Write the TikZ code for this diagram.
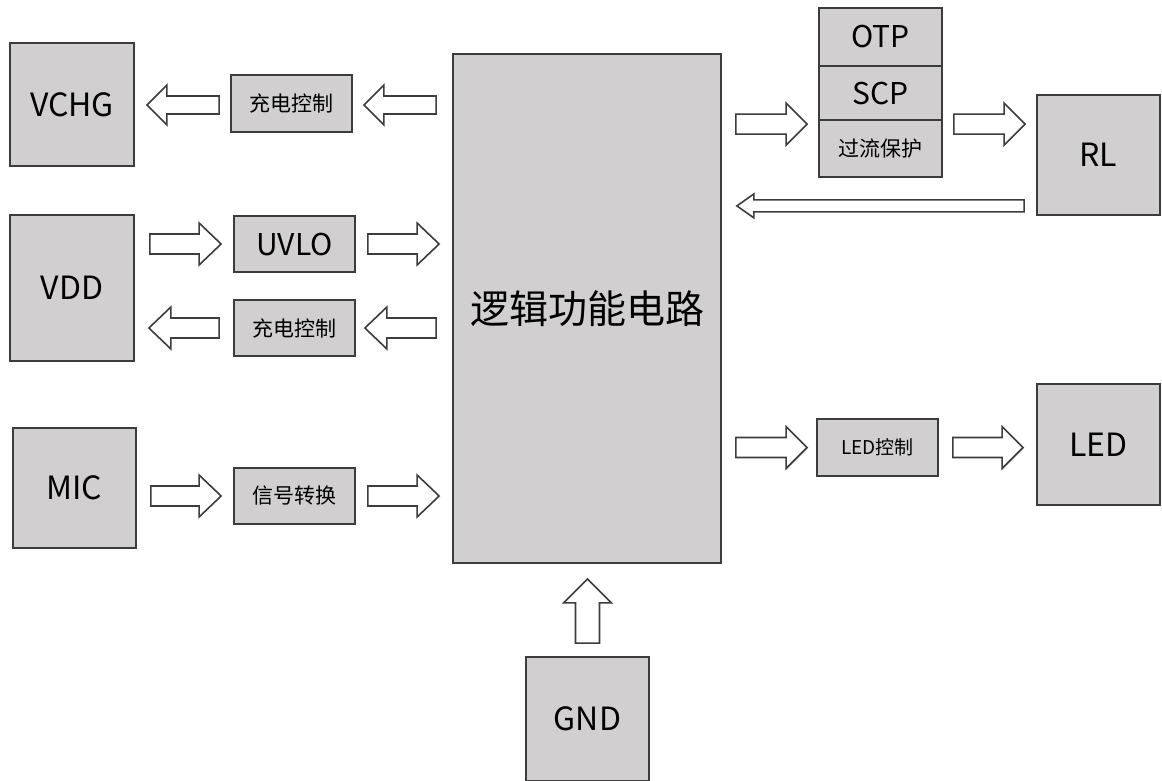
\documentclass[tikz,border=0pt]{standalone}
\usepackage{fontspec}
\setmainfont{Noto Sans CJK SC}
\usetikzlibrary{calc}
\definecolor{boxfill}{RGB}{209,207,207}
\definecolor{edgecol}{RGB}{60,60,60}
\tikzset{
  blk/.style={draw=edgecol, line width=1.8pt, fill=boxfill, inner sep=0pt, text=black},
  sz/.style 2 args={minimum width=#1pt, minimum height=#2pt},
  bigtxt/.style={font=\fontsize{32}{36}\selectfont},
  midtxt/.style={font=\fontsize{30}{34}\selectfont},
  cjktxt/.style={font=\fontsize{21}{24}\selectfont},
  ledtxt/.style={font=\fontsize{19}{22}\selectfont},
  maintxt/.style={font=\fontsize{39}{44}\selectfont},
  barrow/.style={draw=edgecol, line width=1.6pt, fill=white, line join=miter},
}
\newcommand\blockarrow[5]{%
  \path #4 coordinate (bas) #5 coordinate (bae);
  \coordinate (bah) at ($(bae)!#3pt!(bas)$);
  \draw[barrow] ($(bas)!#1pt!90:(bae)$) -- ($(bah)!#1pt!90:(bae)$) -- ($(bah)!#2pt!90:(bae)$)
    -- (bae) -- ($(bah)!#2pt!-90:(bae)$) -- ($(bah)!#1pt!-90:(bae)$) -- ($(bas)!#1pt!-90:(bae)$) -- cycle;
}
\begin{document}
\begin{tikzpicture}[x=1pt, y=-1pt]
\useasboundingbox[fill=white] (0,0) rectangle (1162,780);

% boxes
\node[blk, sz={124}{123}, bigtxt] (vchg) at (72,104.5) {VCHG};
\node[blk, sz={121}{57}, cjktxt] (c1) at (291.5,103.5) {充电控制};
\node[blk, sz={268}{509}, maintxt] (main) at (587,308.5) {逻辑功能电路};
\node[blk, sz={124}{146}, bigtxt] (vdd) at (72,288) {VDD};
\node[blk, sz={121}{56}, midtxt] (uvlo) at (294.5,244) {UVLO};
\node[blk, sz={121}{56}, cjktxt] (c2) at (294.5,328) {充电控制};
\node[blk, sz={123}{120}, bigtxt] (mic) at (74.5,488) {MIC};
\node[blk, sz={121}{56}, cjktxt] (sig) at (294.5,496) {信号转换};
\node[blk, sz={123}{58}, midtxt] (otp) at (880.5,37) {OTP};
\node[blk, sz={123}{54}, midtxt] (scp) at (880.5,93) {SCP};
\node[blk, sz={123}{57}, cjktxt] (ocp) at (880.5,148.5) {过流保护};
\node[blk, sz={123}{120}, bigtxt] (rl) at (1098.5,155) {RL};
\node[blk, sz={121}{57}, ledtxt] (ledc) at (877.5,447.5) {LED控制};
\node[blk, sz={123}{121}, bigtxt] (led) at (1098.5,444.5) {LED};
\node[blk, sz={123}{124}, bigtxt] (gnd) at (587.5,719) {GND};

% block arrows
\blockarrow{9}{20}{20}{($(c1.west)+(-11,1.5)$)}{($(vchg.east |- c1.west)+(12,1.5)$)}
\blockarrow{9}{20}{20}{($(main.west |- c1.east)+(-16,1.5)$)}{($(c1.east)+(11,1.5)$)}
\blockarrow{10}{21}{22}{($(vdd.east |- uvlo.west)+(15,0)$)}{($(uvlo.west)+(-12,0)$)}
\blockarrow{10}{21}{22}{($(uvlo.east)+(12,0)$)}{($(main.west |- uvlo.east)+(-13,0)$)}
\blockarrow{10}{21}{22}{($(c2.west)+(-14,0)$)}{($(vdd.east |- c2.west)+(14,0)$)}
\blockarrow{10}{21}{22}{($(main.west |- c2.east)+(-16,0)$)}{($(c2.east)+(9,0)$)}
\blockarrow{10}{21}{22}{($(mic.east |- sig.west)+(14,0)$)}{($(sig.west)+(-12,0)$)}
\blockarrow{10}{21}{22}{($(sig.east)+(12,0)$)}{($(main.west |- sig.east)+(-13,0)$)}
\blockarrow{10}{21}{21}{($(main.east |- ocp.north)+(14,5)$)}{($(ocp.north west)+(-11,5)$)}
\blockarrow{10}{21}{21}{($(ocp.north east)+(11,5)$)}{($(rl.west |- ocp.north)+(-11,5)$)}
\blockarrow{6}{12}{17}{($(rl.south west)+(-12,-10)$)}{($(main.east |- rl.south)+(15,-10)$)}
\blockarrow{10}{21}{21}{($(main.east |- ledc.west)+(14,0)$)}{($(ledc.west)+(-9,0)$)}
\blockarrow{10}{21}{21}{($(ledc.east)+(14,0)$)}{($(led.west |- ledc.east)+(-13,0)$)}
\blockarrow{12}{24}{24}{($(gnd.north)+(0,-13)$)}{($(gnd.north |- main.south)+(0,15)$)}
\end{tikzpicture}
\end{document}
